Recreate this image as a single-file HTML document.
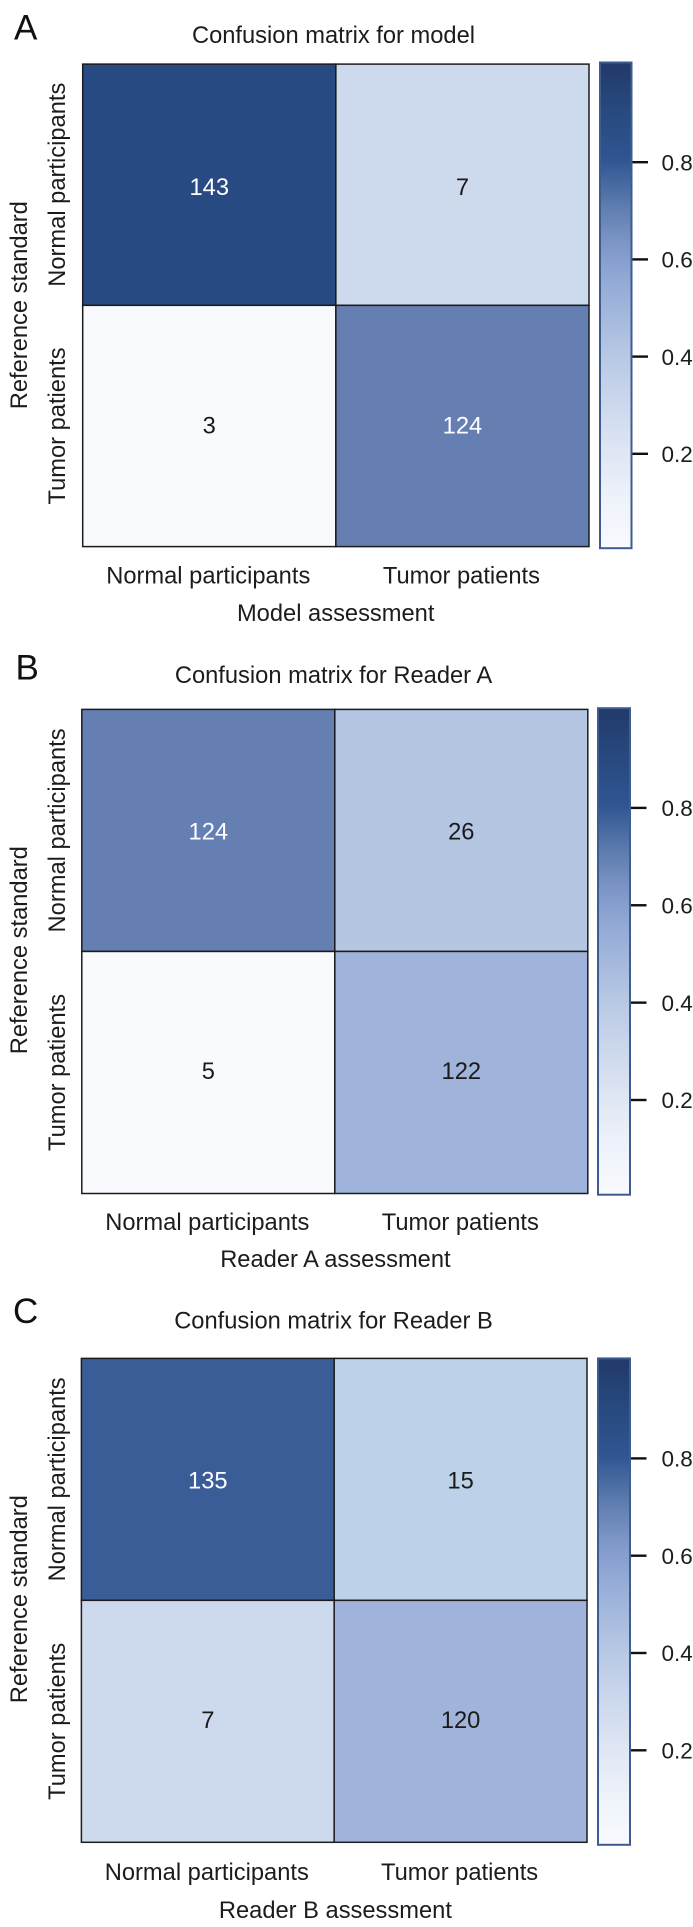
<!DOCTYPE html>
<html lang="en">
<head>
<meta charset="utf-8">
<title>Confusion matrices</title>
<style>
html,body{margin:0;padding:0;background:#fff;}
svg{display:block;}
text{font-family:"Liberation Sans",Arial,sans-serif;font-size:23.7px;fill:#1c1c1c;}
.letter{font-size:35px;fill:#111;}
.cbar-label{font-size:22.5px;}
</style>
</head>
<body>
<svg id="chart" xmlns="http://www.w3.org/2000/svg" width="693" height="1927" viewBox="0 0 693 1927">
  <defs>
    <linearGradient id="cbar-gradient" x1="0" y1="1" x2="0" y2="0">
      <stop offset="0" stop-color="#f8fafe"/>
      <stop offset="0.1" stop-color="#eef2fa"/>
      <stop offset="0.2" stop-color="#dfe6f4"/>
      <stop offset="0.4" stop-color="#b7c8e4"/>
      <stop offset="0.55" stop-color="#93aad6"/>
      <stop offset="0.62" stop-color="#7f98c8"/>
      <stop offset="0.7" stop-color="#607eb0"/>
      <stop offset="0.8" stop-color="#2f5592"/>
      <stop offset="0.9" stop-color="#28497f"/>
      <stop offset="1" stop-color="#213a69"/>
    </linearGradient>
  </defs>

  <g id="panel-a">
    <text class="letter" x="14" y="39.6">A</text>
    <text x="333.5" y="42.9" text-anchor="middle">Confusion matrix for model</text>
    <text x="335.7" y="620.9" text-anchor="middle">Model assessment</text>
    <text text-anchor="middle" transform="translate(27,305.2) rotate(-90)">Reference standard</text>
  </g>

  <g id="panel-b">
    <text class="letter" x="15.5" y="679.6">B</text>
    <text x="333.5" y="682.9" text-anchor="middle">Confusion matrix for Reader A</text>
    <text x="335.4" y="1267" text-anchor="middle">Reader A assessment</text>
    <text text-anchor="middle" transform="translate(27,950.2) rotate(-90)">Reference standard</text>
  </g>

  <g id="panel-c">
    <text class="letter" x="13" y="1323">C</text>
    <text x="333.5" y="1328.3" text-anchor="middle">Confusion matrix for Reader B</text>
    <text x="335.4" y="1917.9" text-anchor="middle">Reader B assessment</text>
    <text text-anchor="middle" transform="translate(27,1599.2) rotate(-90)">Reference standard</text>
  </g>
</svg>

<script>
// Data
const categories = ['Normal participants', 'Tumor patients'];
const countsModel = [[143, 7], [3, 124]];
const countsReaderA = [[124, 26], [5, 122]];
const countsReaderB = [[135, 15], [7, 120]];
const colorbarTicks = [0.2, 0.4, 0.6, 0.8];

// Colour scale: count to shade, interpolated between sampled colours
const scaleCounts = [3, 5, 7, 15, 26, 120, 122, 124, 135, 143];
const scaleColors = ['#f8fafe', '#f8fafe', '#cddaed', '#bbd2e8', '#b4c6e2', '#a0b4db', '#a0b4db', '#667fb3', '#3a5d98', '#284a82'];
const whiteTextFrom = 124;

function hexToRgb(h) {
  return [1, 3, 5].map(function (i) { return parseInt(h.substr(i, 2), 16); });
}
function colorFor(count) {
  const last = scaleCounts.length - 1;
  if (count <= scaleCounts[0]) return scaleColors[0];
  if (count >= scaleCounts[last]) return scaleColors[last];
  for (let i = 0; i < last; i++) {
    if (count <= scaleCounts[i + 1]) {
      const t = (count - scaleCounts[i]) / (scaleCounts[i + 1] - scaleCounts[i]);
      const a = hexToRgb(scaleColors[i]);
      const b = hexToRgb(scaleColors[i + 1]);
      return 'rgb(' + a.map(function (v, k) { return Math.round(v + (b[k] - v) * t); }).join(',') + ')';
    }
  }
  return scaleColors[last];
}

// Layout of each panel
const layouts = [
  { id: 'panel-a', counts: countsModel, left: 82.7, right: 589, top: 64.1, bottom: 546.6, rowNudge: [1.2, -1.5],
    barLeft: 600, barRight: 631.5, barTop: 62.5, barBottom: 548.2, tickLow: 453.8, tickHigh: 162.2, xLabelY: 583.3 },
  { id: 'panel-b', counts: countsReaderA, left: 81.8, right: 587.8, top: 709.4, bottom: 1193.5, rowNudge: [0, -2.5],
    barLeft: 598, barRight: 630, barTop: 708.2, barBottom: 1194.7, tickLow: 1100, tickHigh: 807.9, xLabelY: 1229.9 },
  { id: 'panel-c', counts: countsReaderB, left: 81.4, right: 587, top: 1358.4, bottom: 1842.3, rowNudge: [0, -2.5],
    barLeft: 598, barRight: 630, barTop: 1358.4, barBottom: 1844.8, tickLow: 1750.3, tickHigh: 1458.4, xLabelY: 1879.9 }
];

const NS = 'http://www.w3.org/2000/svg';
function make(tag, attrs, parent, text) {
  const el = document.createElementNS(NS, tag);
  Object.keys(attrs).forEach(function (k) { el.setAttribute(k, attrs[k]); });
  if (text !== undefined) el.textContent = text;
  parent.appendChild(el);
  return el;
}

layouts.forEach(function (p) {
  const g = document.getElementById(p.id);
  const cellW = (p.right - p.left) / categories.length;
  const cellH = (p.bottom - p.top) / categories.length;
  const xScale = function (i) { return p.left + i * cellW; };
  const yScale = function (i) { return p.top + i * cellH; };
  const barScale = function (v) {
    return p.tickLow + (v - colorbarTicks[0]) / (colorbarTicks[colorbarTicks.length - 1] - colorbarTicks[0]) * (p.tickHigh - p.tickLow);
  };

  p.counts.forEach(function (row, r) {
    row.forEach(function (count, c) {
      const cell = make('rect', {
        x: xScale(c), y: yScale(r), width: cellW, height: cellH,
        fill: colorFor(count), stroke: '#1c1c1c', 'stroke-width': 1.5
      }, g);
      
      
      const label = make('text', {
        x: xScale(c) + cellW / 2, y: yScale(r) + cellH / 2 + 9 + p.rowNudge[r],
        'text-anchor': 'middle', style: 'fill:' + (count >= whiteTextFrom ? '#ffffff' : '#1a1a1a')
      }, g, String(count));
      
      
    });
  });

  categories.forEach(function (name, i) {
    const xLabel = make('text', {
      x: xScale(i) + cellW / 2 - 1, y: p.xLabelY, 'text-anchor': 'middle'
    }, g, name);
    
    
    const yLabel = make('text', {
      'text-anchor': 'middle',
      transform: 'translate(65,' + (yScale(i) + cellH / 2) + ') rotate(-90)'
    }, g, name);
    
    
  });

  const bar = make('rect', {
    x: p.barLeft, y: p.barTop, width: p.barRight - p.barLeft, height: p.barBottom - p.barTop,
    fill: 'url(#cbar-gradient)', stroke: '#3f5c90', 'stroke-width': 2
  }, g);
  
  

  colorbarTicks.forEach(function (v) {
    const tick = make('line', {
      x1: p.barRight + 1, x2: p.barRight + 16.5, y1: barScale(v), y2: barScale(v),
      stroke: '#111', 'stroke-width': 2.4
    }, g);
    
    
    const tickLabel = make('text', { x: 661.5, y: barScale(v) + 8.2, class: 'cbar-label' }, g, v.toFixed(1));
    
    
  });
});
</script>
</body>
</html>
